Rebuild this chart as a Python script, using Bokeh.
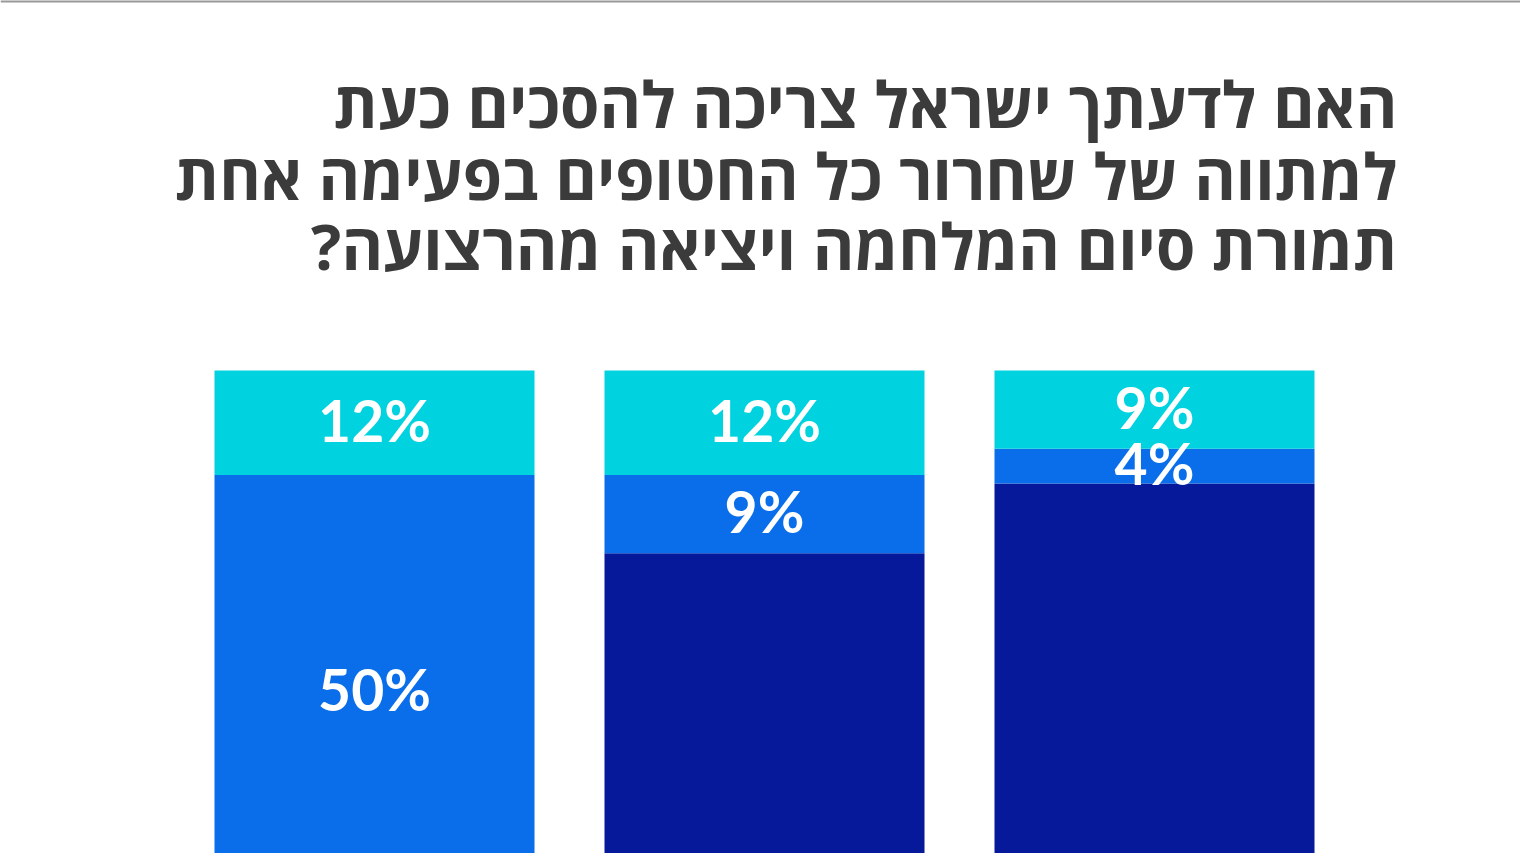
from bokeh.plotting import figure
from bokeh.models import Range1d, Label, ColumnDataSource, Span
from bokeh.core.properties import value
from bokeh.embed import file_html
from bokeh.resources import INLINE

# ---- data ----
title_lines = [
    "האם לדעתך ישראל צריכה להסכים כעת",
    "למתווה של שחרור כל החטופים בפעימה אחת",
    "תמורת סיום המלחמה ויציאה מהרצועה?\u200f",
]
bar_index = [0, 1, 2]
top_share = [12, 12, 9]       # cyan (top segment)
mid_share = [50, 9, 4]        # blue (middle segment)
bottom_share = [38, 79, 87]   # navy (bottom segment)
top_labels = ["12%", "12%", "9%"]
mid_labels = ["50%", "9%", "4%"]

CYAN = "#00D3DF"
BLUE = "#0A6EEB"
NAVY = "#07199B"
TITLE_COLOR = "#3B3B3B"

W, H = 1520, 853
PX_PER_UNIT_X = 390.0
BAR_W_PX = 320.0
FIRST_CENTER_PX = 374.0
PX_PER_PCT = 8.7
BAR_TOP_PX = 370.0

x0 = -FIRST_CENTER_PX / PX_PER_UNIT_X
x1 = (W - FIRST_CENTER_PX) / PX_PER_UNIT_X
y1 = 100 + BAR_TOP_PX / PX_PER_PCT
y0 = 100 - (H - BAR_TOP_PX) / PX_PER_PCT

p = figure(width=W, height=H, output_backend="svg", toolbar_location=None,
           x_range=Range1d(x0, x1), y_range=Range1d(y0, y1),
           min_border=0, background_fill_color="white", border_fill_color="white")
p.axis.visible = False
p.grid.visible = False
p.outline_line_color = None

# stacked segments (from the top)
cyan_top = [100] * 3
cyan_bot = [100 - c for c in top_share]
blue_top = cyan_bot
blue_bot = [b - m for b, m in zip(blue_top, mid_share)]
navy_top = blue_bot
navy_bot = [t - n for t, n in zip(navy_top, bottom_share)]

src = ColumnDataSource(dict(
    x=bar_index,
    ct=cyan_top, cb=cyan_bot, bt=blue_top, bb=blue_bot, nt=navy_top, nb=navy_bot,
    cy=[(a + b) / 2 for a, b in zip(cyan_top, cyan_bot)],
    by=[(a + b) / 2 for a, b in zip(blue_top, blue_bot)],
    tl=top_labels, ml=mid_labels,
))
bw = BAR_W_PX / PX_PER_UNIT_X
p.vbar(x="x", top="nt", bottom="nb", width=bw, source=src, fill_color=NAVY, line_color=None)
p.vbar(x="x", top="bt", bottom="bb", width=bw, source=src, fill_color=BLUE, line_color=None)
p.vbar(x="x", top="ct", bottom="cb", width=bw, source=src, fill_color=CYAN, line_color=None)

for col in ("tl", "ml"):
    p.text(x="x", y="cy" if col == "tl" else "by", text=col, source=src,
           text_color="white", text_font=value("Lato"), text_font_style="bold",
           text_font_size="57px", text_align="center", text_baseline="middle",
           y_offset=-3)

# title
baselines_from_top = [103, 175, 245]
for line, b in zip(title_lines, baselines_from_top):
    p.add_layout(Label(x=1397, y=H - b, x_units="screen", y_units="screen", text=line,
                       text_font="Open Sans", text_font_style="bold",
                       text_font_size="63.5px",
                       text_color=TITLE_COLOR, text_align="right", text_baseline="alphabetic"))

p.add_layout(Span(location=y1, dimension="width", line_color="#999999", line_width=4))

open("out.html", "w").write(file_html(p, INLINE))
